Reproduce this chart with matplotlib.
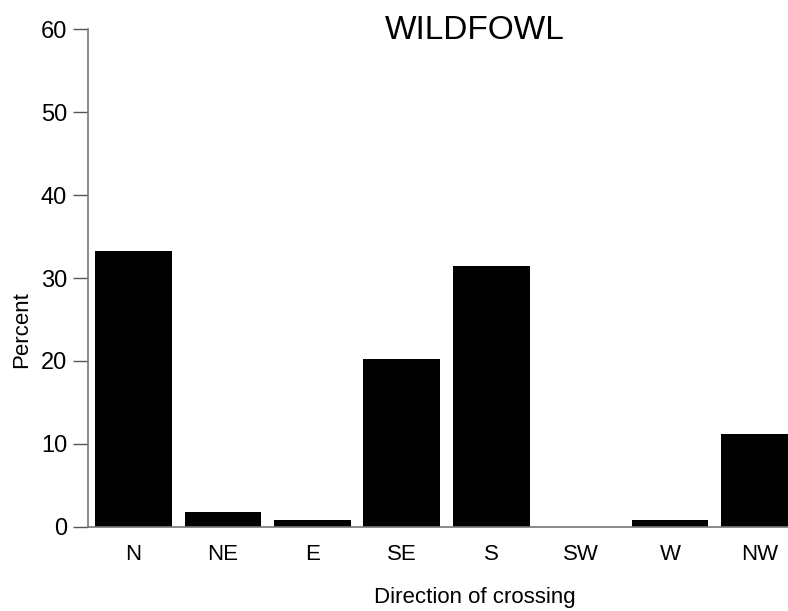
import numpy as np
import matplotlib.pyplot as plt

plt.rcParams['font.family'] = ['Liberation Sans', 'DejaVu Sans']

directions = ['N', 'NE', 'E', 'SE', 'S', 'SW', 'W', 'NW']
percent = [33.3, 1.8, 0.8, 20.3, 31.5, 0.0, 0.8, 11.2]
yticks = [0, 10, 20, 30, 40, 50, 60]

fig = plt.figure(figsize=(7.88, 6.11), dpi=100)
ax = fig.add_axes([0.1117, 0.1375, 0.8883, 0.815])

x = np.arange(len(directions))
ax.bar(x, percent, width=0.86, color='black')

ax.set_xlim(-0.51, 7.32)
ax.set_ylim(0, 60)
ax.set_yticks(yticks)
ax.set_xticks(x)
ax.set_xticklabels(directions)

for side in ['top', 'right']:
    ax.spines[side].set_visible(False)
for side in ['left', 'bottom']:
    ax.spines[side].set_color('#777777')
    ax.spines[side].set_linewidth(1.2)

ax.tick_params(axis='y', length=11, width=1, color='#555555', labelsize=17, pad=4)
ax.tick_params(axis='x', length=0, labelsize=16, pad=12)

fig.text(0.028, 0.46, 'Percent', rotation=90, ha='center', va='center', fontsize=16)
fig.text(0.603, 0.022, 'Direction of crossing', ha='center', va='center', fontsize=16)
fig.text(0.603, 0.95, 'WILDFOWL', ha='center', va='center', fontsize=24)

fig.savefig('out.png', dpi=100)
